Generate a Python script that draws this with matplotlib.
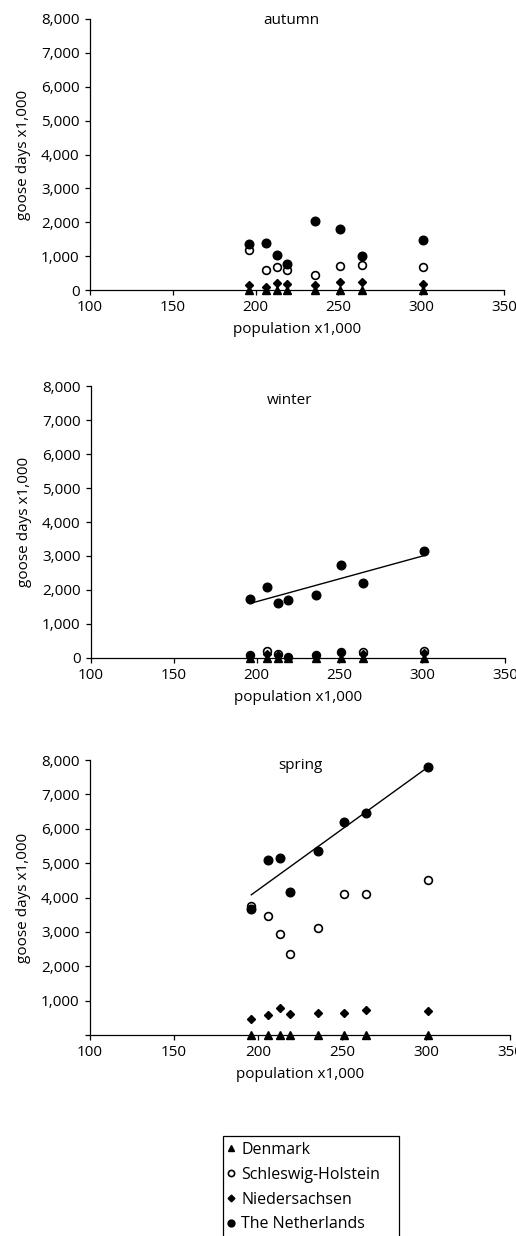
import matplotlib
matplotlib.use('Agg')
import matplotlib.pyplot as plt
from matplotlib.lines import Line2D
from matplotlib.patches import Rectangle
from matplotlib.ticker import FuncFormatter
import numpy as np

plt.rcParams['font.family'] = ['Open Sans', 'DejaVu Sans']

# ── Data (population x1,000 vs goose days x1,000) ───────────
population = [196, 206, 213, 219, 236, 251, 264, 301]

autumn_dk = [10, 10, 10, 10, 10, 10, 10, 10]
autumn_sh = [1180, 590, 670, 590, 430, 720, 740, 690]
autumn_ns = [150, 80, 200, 180, 150, 230, 240, 170]
autumn_nl = [1350, 1390, 1030, 760, 2040, 1810, 1010, 1480]

winter_dk = [10, 10, 10, 10, 10, 10, 10, 10]
winter_sh = [80, 210, 120, 20, 80, 180, 170, 220]
winter_ns = [100, 110, 90, 30, 100, 190, 130, 150]
winter_nl = [1725, 2080, 1620, 1710, 1845, 2745, 2215, 3150]

spring_dk = [10, 10, 10, 10, 10, 10, 10, 10]
spring_sh = [3760, 3460, 2930, 2360, 3120, 4110, 4110, 4520]
spring_ns = [475, 590, 775, 610, 630, 640, 737, 700]
spring_nl = [3680, 5090, 5140, 4160, 5350, 6200, 6450, 7790]

series_names = ['Denmark', 'Schleswig-Holstein', 'Niedersachsen', 'The Netherlands']
x_ticks = [100, 150, 200, 250, 300, 350]
y_ticks = [0, 1000, 2000, 3000, 4000, 5000, 6000, 7000, 8000]

# ── Layout (figure fractions, from pixel positions) ─────────
W, H = 516, 1236
panels = [
    # title, series, trend, [l, b, w, h], show zero label, title xy (axes frac)
    ('autumn', (autumn_dk, autumn_sh, autumn_ns, autumn_nl), False,
     [90 / W, 1 - 290 / H, 414 / W, 271 / H], True, (0.4855, 0.994)),
    ('winter', (winter_dk, winter_sh, winter_ns, winter_nl), True,
     [91 / W, 1 - 658 / H, 414 / W, 272 / H], True, (0.48, 0.946)),
    ('spring', (spring_dk, spring_sh, spring_ns, spring_nl), True,
     [90 / W, 1 - 1035 / H, 420 / W, 275 / H], False, (0.502, 0.979)),
]

styles = [
    dict(marker='^', mfc='black', mec='black', ms=6),
    dict(marker='o', mfc='white', mec='black', ms=5.6, mew=1.2),
    dict(marker='D', mfc='black', mec='black', ms=4.3),
    dict(marker='o', mfc='black', mec='black', ms=6.2),
]

fig = plt.figure(figsize=(W / 100, H / 100), dpi=100)

for title, data, trend, rect, zero_lbl, tpos in panels:
    ax = fig.add_axes(rect)
    for vals, st in zip(data, styles):
        ax.plot(population, vals, linestyle='none', clip_on=False, zorder=3, **st)
    if trend:
        nl = data[3]
        k, b = np.polyfit(population, nl, 1)
        xs = np.array([min(population), max(population)])
        ax.plot(xs, k * xs + b, color='black', lw=1.0, zorder=2)
    ax.set_xlim(100, 350)
    ax.set_ylim(0, 8000)
    ax.set_xticks(x_ticks)
    ax.set_yticks(y_ticks)
    ax.yaxis.set_major_formatter(FuncFormatter(
        lambda v, p, z=zero_lbl: ('' if (v == 0 and not z) else f'{int(v):,}')))
    for s in ['top', 'right']:
        ax.spines[s].set_visible(False)
    for s in ['left', 'bottom']:
        ax.spines[s].set_linewidth(0.9)
    ax.tick_params(direction='out', length=3.5, width=0.9, labelsize=11,
                   colors='black', pad=4)
    ax.set_xlabel('population x1,000', fontsize=11, labelpad=5)
    ax.set_ylabel('goose days x1,000', fontsize=11, labelpad=7)
    ax.text(tpos[0], tpos[1], title, transform=ax.transAxes, fontsize=11,
            ha='center', va='center')

# ── Legend (box runs off the bottom edge, as in the source) ─
box = Rectangle((223 / W, -0.02), 176 / W, (1 - 1136 / H) + 0.02,
                transform=fig.transFigure, facecolor='white',
                edgecolor='black', lw=0.9, clip_on=False)
fig.patches.append(box)

handles = [Line2D([], [], linestyle='none', **dict(st, ms=st['ms'] * 0.8))
           for st in styles]
leg = fig.legend(handles, series_names, loc='upper left',
                 bbox_to_anchor=(226 / W, 1 - 1142 / H), borderaxespad=0,
                 fontsize=11.5, frameon=False, handlelength=0.6,
                 handletextpad=0.35, labelspacing=0.55, borderpad=0)

fig.savefig('out.png', dpi=100)
